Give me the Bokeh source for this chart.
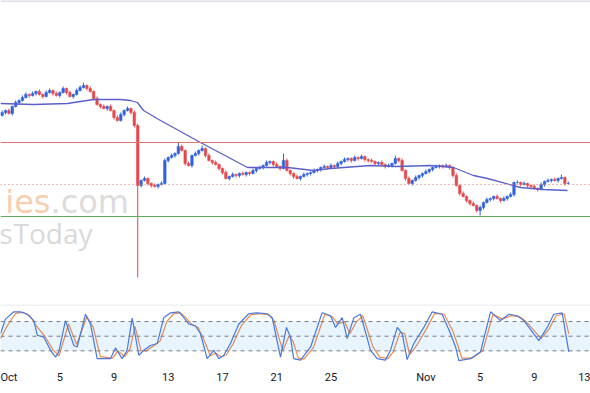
from bokeh.plotting import figure
from bokeh.layouts import column
from bokeh.models import ColumnDataSource, Span, Range1d, FixedTicker, BoxAnnotation, Label, Div
from bokeh.embed import file_html
from bokeh.resources import INLINE

# ---------------- data (price in chart units) ----------------
candles_per_day = 4
first_candle_day = -0.25          # day 0 = 1 Oct
first_open = 185
closes = [
    188, 190, 187, 194, 198, 200, 203, 206, 205, 207,
    209, 206, 204, 208, 210, 207, 205, 208, 212, 208,
    204, 206, 210, 213, 215, 212, 209, 202, 196, 194,
    192, 194, 190, 183, 180, 186, 190, 192, 188, 175,
    115, 120, 122, 117, 115, 114, 116, 117, 140, 143,
    145, 147, 154, 150, 137, 135, 145, 147, 150, 152,
    145, 140, 138, 136, 132, 128, 122, 124, 126, 125,
    127, 126, 128, 127, 130, 132, 133, 135, 138, 139,
    136, 134, 132, 140, 130, 127, 124, 122, 124, 126,
    127, 128, 130, 131, 133, 134, 133, 135, 134, 137,
    139, 141, 142, 140, 143, 142, 144, 141, 140, 139,
    137, 138, 136, 134, 135, 137, 142, 140, 130, 122,
    117, 120, 123, 125, 127, 129, 131, 133, 134, 135,
    134, 135, 133, 125, 115, 107, 104, 100, 97, 95,
    90, 93, 98, 101, 102, 104, 102, 100, 102, 104,
    106, 118, 118, 116, 117, 115, 114, 112, 111, 116,
    119, 120, 121, 120, 122, 123, 117, 117,
]
up_wick = [
    2, 1, 2, 1, 2, 1, 2, 2, 1, 2,
    1, 2, 1, 2, 2, 1, 2, 1, 2, 1,
    2, 1, 2, 2, 3, 1, 2, 1, 2, 1,
    2, 1, 2, 1, 2, 2, 1, 2, 1, 2,
    2, 1, 2, 1, 1, 2, 1, 2, 2, 1,
    2, 1, 4, 2, 1, 2, 1, 2, 1, 3,
    1, 2, 1, 2, 1, 1, 2, 1, 2, 1,
    1, 2, 1, 1, 2, 1, 2, 1, 2, 1,
    1, 2, 1, 7, 2, 1, 1, 2, 1, 2,
    1, 1, 2, 1, 1, 2, 1, 2, 1, 2,
    1, 2, 1, 1, 2, 1, 2, 1, 1, 2,
    1, 1, 2, 1, 2, 1, 3, 1, 2, 1,
    2, 1, 2, 1, 1, 2, 1, 1, 2, 1,
    1, 2, 1, 1, 2, 1, 2, 1, 1, 2,
    1, 2, 1, 2, 1, 1, 2, 1, 2, 1,
    2, 1, 2, 1, 2, 1, 1, 2, 1, 2,
    1, 2, 1, 2, 1, 3, 1, 2,
]
lo_wick = [
    1, 2, 1, 2, 1, 2, 1, 1, 2, 1,
    2, 1, 2, 1, 1, 2, 1, 2, 1, 2,
    1, 2, 1, 1, 1, 2, 1, 2, 1, 2,
    1, 2, 1, 2, 1, 1, 2, 1, 2, 2,
    92, 2, 1, 2, 2, 1, 2, 1, 1, 2,
    1, 2, 1, 1, 2, 1, 2, 1, 2, 1,
    2, 1, 2, 1, 2, 2, 1, 2, 1, 2,
    2, 1, 2, 2, 1, 2, 1, 2, 1, 2,
    2, 1, 2, 1, 1, 2, 2, 1, 2, 1,
    2, 2, 1, 2, 2, 1, 2, 1, 2, 1,
    2, 1, 2, 2, 1, 2, 1, 2, 2, 1,
    2, 2, 1, 2, 1, 2, 1, 2, 1, 2,
    1, 2, 1, 2, 2, 1, 2, 2, 1, 2,
    2, 1, 2, 2, 1, 2, 1, 2, 2, 1,
    2, 5, 2, 1, 2, 2, 1, 2, 1, 2,
    1, 2, 1, 2, 1, 2, 2, 1, 2, 1,
    2, 1, 2, 1, 2, 1, 2, 1,
]

ma_day = [-0.37, 2.06, 4.57, 6.49, 8.48, 9.22, 9.73, 10.18, 11.43, 14.38, 17.85,
          19.03, 20.8, 22.71, 23.97, 26.92, 28.91, 31.34, 33.04, 34.51, 35.55,
          37.98, 39.68, 41.45]
ma_val = [197, 196, 197, 201, 201, 200, 198, 190, 180, 158, 133,
          133, 133, 130, 132, 135, 134, 135, 133, 125, 122,
          113, 111, 110]

resistance_level = 158
support_level = 84
last_price = 116

stoch_k_day = [-0.37, 0.0, 0.61, 1.11, 1.6, 2.09, 2.34, 2.83, 3.32, 3.69, 3.93, 4.42, 5.04,
               5.29, 5.9, 6.27, 6.76, 7.74, 8.11, 8.6, 8.97, 9.34, 9.83, 10.2, 10.69, 11.19,
               11.67, 12.17, 12.78, 13.15, 13.52, 14.01, 14.38, 14.87, 15.36, 15.73, 16.1,
               16.59, 17.21, 17.94, 18.56, 19.3, 19.67, 20.28, 20.72, 21.02, 21.25, 21.76,
               22.5, 23.35, 23.97, 24.34, 24.83, 25.2, 25.69, 26.18, 26.92, 27.41, 28.02,
               28.39, 28.89, 29.26, 29.62, 30.11, 30.85, 31.47, 32.2, 32.82, 33.19, 33.43,
               34.29, 35.03, 35.77, 36.5, 37.12, 37.73, 38.23, 39.33, 39.95, 40.43, 41.05, 41.54]
stoch_k = [55, 85, 100, 100, 95, 82, 52, 48, 21, 7, 18, 82, 31, 28, 95, 75, 4, 4, 26, 4,
           21, 87, 11, 21, 31, 35, 88, 98, 100, 88, 75, 71, 55, 4, 21, 4, 11, 35, 75, 96,
           98, 96, 88, 7, 68, 48, 4, 1, 28, 98, 92, 68, 88, 45, 88, 95, 21, 4, 1, 21,
           68, 55, 2, 35, 68, 100, 95, 55, 28, 0, 4, 18, 100, 82, 95, 92, 82, 41, 68, 95,
           98, 18]
stoch_d_day = [-0.37, 0.1, 0.75, 1.3, 1.8, 2.3, 2.9, 3.5, 3.95, 4.65, 5.25, 6.0, 6.45, 7.0,
               7.9, 8.3, 8.8, 9.2, 9.55, 10.0, 10.4, 10.9, 11.4, 11.9, 12.4, 12.9, 13.3, 13.7,
               14.2, 14.6, 15.1, 15.5, 15.9, 16.3, 16.8, 17.4, 18.1, 18.7, 19.4, 19.8, 20.45,
               20.9, 21.2, 21.6, 22.0, 22.7, 23.55, 24.1, 24.5, 25.0, 25.4, 25.9, 26.35, 27.1,
               27.6, 28.2, 28.6, 29.1, 29.45, 29.8, 30.3, 31.0, 31.65, 32.35, 33.0, 33.35,
               33.65, 34.4, 35.2, 35.95, 36.65, 37.3, 37.9, 38.4, 39.5, 40.1, 40.6, 41.2, 41.54]
stoch_d = [45, 70, 97, 99, 92, 70, 50, 22, 10, 75, 33, 90, 70, 8, 5, 20, 8, 25, 70, 20,
           20, 30, 40, 80, 96, 98, 88, 75, 68, 45, 10, 15, 8, 12, 35, 72, 94, 96, 94, 82,
           20, 50, 40, 5, 3, 26, 95, 90, 75, 80, 55, 80, 92, 28, 7, 4, 18, 58, 55, 12,
           30, 63, 97, 95, 60, 32, 5, 5, 20, 95, 85, 92, 90, 80, 45, 65, 92, 96, 55]
stoch_upper, stoch_mid, stoch_lower = 80, 50, 20

tick_days = [0, 4, 8, 12, 16, 20, 24, 31, 35, 39, 43]
tick_labels = ["Oct", "5", "9", "13", "17", "21", "25", "Nov", "5", "9", "13"]

# ---------------- build candle table ----------------
UP = "#2f62e0"
DOWN = "#e5484d"
opens = [first_open] + closes[:-1]
days = [first_candle_day + i / candles_per_day for i in range(len(closes))]
tops = [max(o, c) for o, c in zip(opens, closes)]
bots = [min(o, c) for o, c in zip(opens, closes)]
highs = [t + w for t, w in zip(tops, up_wick)]
lows = [b - w for b, w in zip(bots, lo_wick)]
colors = [UP if c >= o else DOWN for o, c in zip(opens, closes)]
src = ColumnDataSource(dict(day=days, top=tops, bot=bots, high=highs, low=lows, color=colors))

W = 590
PX_PER_DAY = 13.56
X0 = 5  # pixel of 1 Oct
x_range = Range1d((0 - X0) / PX_PER_DAY, (W - X0) / PX_PER_DAY)

# ---------------- main pane ----------------
p = figure(width=W, height=304, x_range=x_range, y_range=Range1d(-4, 300),
           x_axis_location=None, y_axis_location=None, output_backend="svg",
           toolbar_location=None, min_border=0)
p.grid.visible = False
p.outline_line_color = None
p.background_fill_color = "white"
p.border_fill_color = "white"

p.add_layout(Span(location=300, dimension="width", line_color="#dcdfe6", line_width=3))

# watermark
p.add_layout(Label(x=(50 - X0) / PX_PER_DAY, y=80, text="ies", text_align="right",
                   text_font="DejaVu Sans", text_font_size="32px", text_color="#f7cfb0"))
p.add_layout(Label(x=(50 - X0) / PX_PER_DAY, y=80, text=".com", text_align="left",
                   text_font="DejaVu Sans", text_font_size="32px", text_color="#dcdcdc"))
p.add_layout(Label(x=(13 - X0) / PX_PER_DAY, y=49, text="Today", text_align="left",
                   text_font="Open Sans", text_font_size="28px", text_color="#d9d9d9"))
p.add_layout(Label(x=(12 - X0) / PX_PER_DAY, y=49, text="s", text_align="right",
                   text_font="Open Sans", text_font_size="28px", text_color="#d9d9d9"))

p.add_layout(Span(location=resistance_level, dimension="width", line_color="#e27373", line_width=1))
p.add_layout(Span(location=support_level, dimension="width", line_color="#5cae5c", line_width=1))
p.add_layout(Span(location=last_price, dimension="width", line_color="#e27373", line_width=1,
                  line_dash="1 3"))

p.segment(x0="day", x1="day", y0="low", y1="high", color="color", line_width=1, source=src)
p.vbar(x="day", width=0.19, top="top", bottom="bot", fill_color="color", line_color="color",
       line_width=0.5, source=src)
p.line(ma_day, ma_val, line_color="#5b5fcc", line_width=1.3)

# ---------------- stochastic pane ----------------
q = figure(width=W, height=85, x_range=x_range, y_range=Range1d(-12.1, 115),
           x_axis_location="below", y_axis_location=None, output_backend="svg",
           toolbar_location=None, min_border=0, min_border_bottom=23)
q.grid.visible = False
q.outline_line_color = None
q.background_fill_color = "white"
q.border_fill_color = "white"
q.add_layout(Span(location=114, dimension="width", line_color="#e0e3eb", line_width=1))
q.add_layout(BoxAnnotation(bottom=stoch_lower, top=stoch_upper, fill_color="#2196f3",
                           fill_alpha=0.1, line_color=None))
for lvl in (stoch_upper, stoch_mid, stoch_lower):
    q.add_layout(Span(location=lvl, dimension="width", line_color="#787b86", line_width=1,
                      line_dash="4 4"))
q.line(stoch_d_day, stoch_d, line_color="#f08a50", line_width=1.2)
q.line(stoch_k_day, stoch_k, line_color="#4a78dc", line_width=1.2)

ax = q.xaxis[0]
ax.ticker = FixedTicker(ticks=tick_days)
ax.major_label_overrides = {d: t for d, t in zip(tick_days, tick_labels)}
ax.axis_line_color = None
ax.major_tick_line_color = None
ax.minor_tick_line_color = None
ax.major_tick_out = 0
ax.major_tick_in = 0
ax.major_label_standoff = 4
ax.major_label_text_font = "Roboto"
ax.major_label_text_font_size = "11px"
ax.major_label_text_color = "#131722"

bottom_rule = Div(width=W, height=4, styles={"border-top": "1px solid #e0e3eb"})

layout = column(p, q, bottom_rule, spacing=0)
open("out.html", "w").write(file_html(layout, INLINE))
